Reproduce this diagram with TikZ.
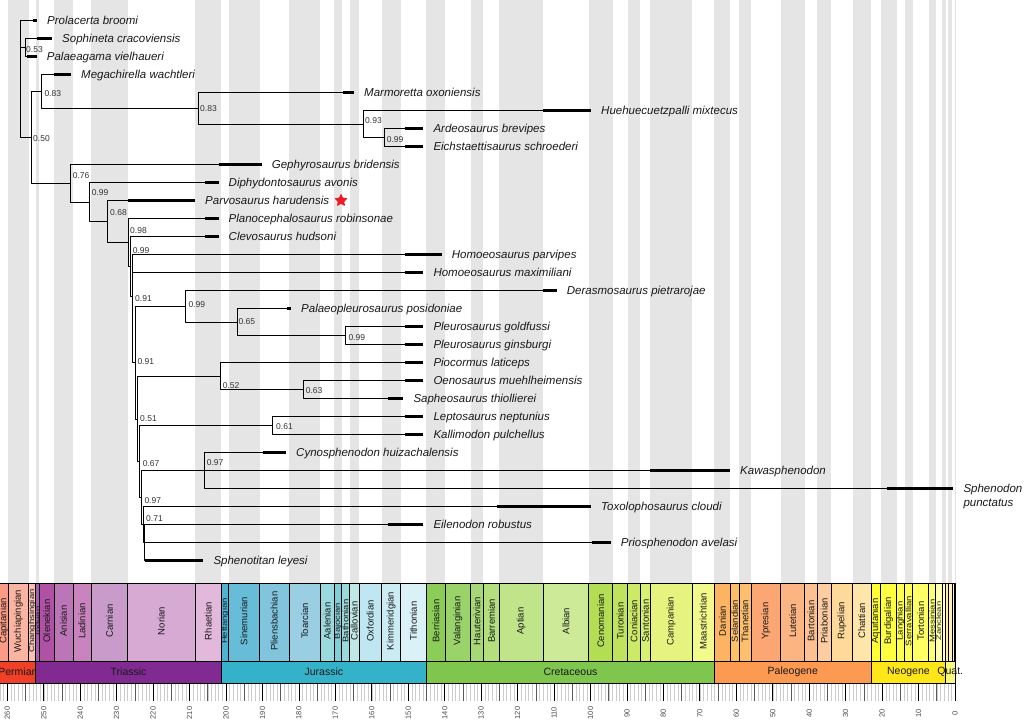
\documentclass[tikz,border=0pt]{standalone}
\usepackage{fontspec}
\usepackage{graphicx}
\setmainfont{Liberation Sans}
\usetikzlibrary{shapes.geometric}
\definecolor{stripe}{RGB}{229,229,229}
\definecolor{starred}{RGB}{236,28,36}
\begin{document}
\begin{tikzpicture}[x=1pt, y=-1pt, line join=round,
    branch/.style={line width=0.75pt},
    agebar/.style={line width=3pt},
    taxon/.style={anchor=west, inner sep=0pt, text height=9pt, text depth=1pt, font=\fontsize{11.5}{13}\selectfont\itshape, text=black!90},
    supp/.style={anchor=west, inner sep=0pt, text height=6.5pt, text depth=0.5pt, font=\fontsize{8.5}{10}\selectfont, text=black!80},
    stagebox/.style={draw=black, line width=0.7pt},
    stagelab/.style={rotate=90, inner sep=0pt, font=\fontsize{9.5}{9.5}\selectfont, text=black!90},
    periodlab/.style={inner sep=0pt, font=\fontsize{10.5}{10.5}\selectfont, text=black!90}]
    \def\xnow{955}\def\ppm{3.645}\def\ytop{583}\def\ymid{661}\def\ybot{683}
    \useasboundingbox (0,0) rectangle (1024,721);
    \clip (0,0) rectangle (1024,721);
    \fill[white] (0,0) rectangle (1024,721);
    \foreach \nm/\ao/\ay/\rgb [count=\i] in {Capitanian/265.1/259.8/{251,154,133}, Wuchiapingian/259.8/254.14/{252,180,162},
        Changhsingian/254.14/252.17/{252,192,178}, Induan/252.17/251.2/{164,95,181}, Olenekian/251.2/247.2/{176,81,165},
        Anisian/247.2/242/{188,117,183}, Ladinian/242/237/{201,131,191}, Carnian/237/227/{201,155,203},
        Norian/227/208.5/{214,170,211}, Rhaetian/208.5/201.3/{227,185,219}, Hettangian/201.3/199.3/{78,179,211},
        Sinemurian/199.3/190.8/{103,188,216}, Pliensbachian/190.8/182.7/{128,197,221}, Toarcian/182.7/174.1/{153,206,227},
        Aalenian/174.1/170.3/{154,217,221}, Bajocian/170.3/168.3/{128,207,216}, Bathonian/168.3/166.1/{154,217,221},
        Callovian/166.1/163.5/{191,231,229}, Oxfordian/163.5/157.3/{191,231,241}, Kimmeridgian/157.3/152.1/{204,236,244},
        Tithonian/152.1/145/{217,241,247}, Berriasian/145/139.8/{140,205,87}, Valanginian/139.8/132.9/{153,211,106},
        Hauterivian/132.9/129.4/{166,217,117}, Barremian/129.4/125/{179,223,127}, Aptian/125/113/{191,228,138},
        Albian/113/100.5/{204,234,151}, Cenomanian/100.5/93.9/{179,222,83}, Turonian/93.9/89.8/{191,227,93},
        Coniacian/89.8/86.3/{204,233,104}, Santonian/86.3/83.6/{217,239,116}, Campanian/83.6/72.1/{230,244,127},
        Maastrichtian/72.1/66/{242,250,140}, Danian/66/61.6/{253,180,98}, Selandian/61.6/59.2/{254,191,101},
        Thanetian/59.2/56/{253,191,111}, Ypresian/56/47.8/{252,167,115}, Lutetian/47.8/41.2/{252,180,130},
        Bartonian/41.2/37.8/{253,192,145}, Priabonian/37.8/33.9/{253,205,161}, Rupelian/33.9/28.1/{254,217,154},
        Chattian/28.1/23.03/{254,230,170}, Aquitanian/23.03/20.44/{255,255,51}, Burdigalian/20.44/15.97/{255,255,65},
        Langhian/15.97/13.82/{255,255,77}, Serravallian/13.82/11.63/{255,255,89}, Tortonian/11.63/7.246/{255,255,102},
        Messinian/7.246/5.333/{255,255,115}, Zanclean/5.333/3.6/{255,255,179}, {}/3.6/2.58/{255,255,191},
        {}/2.58/1.8/{255,237,179}, {}/1.8/0.781/{255,242,186}, {}/0.781/0.126/{255,242,199},
        {}/0.126/0.0117/{255,242,211}, {}/0.0117/0/{254,242,236}}{
        \edef\setstc{\noexpand\definecolor{stc}{RGB}{\rgb}}\setstc
        \pgfmathsetmacro{\xa}{\xnow-\ppm*\ao}
        \pgfmathsetmacro{\xb}{\xnow-\ppm*\ay}
        \pgfmathsetmacro{\xm}{(max(\xa,0)+\xb)/2}
        \pgfmathsetmacro{\sq}{min(1,max(0.45,(\xb-\xa)/9.5))}
        \ifodd\i\else\fill[stripe] (\xa,0) rectangle (\xb,\ytop);\fi
        \draw[stagebox, fill=stc] (\xa,\ytop) rectangle (\xb,\ymid);
        \node[stagelab] (st\i) at (\xm,621) {\scalebox{1}[\sq]{\nm}};
    }
    \foreach \nm/\ao/\ay/\rgb/\xl [count=\i] in {Permian/298.9/252.17/{240,64,40}/17.9, Triassic/252.17/201.3/{129,43,146}/128.6,
        Jurassic/201.3/145/{52,178,201}/323.9, Cretaceous/145/66/{127,198,78}/570.5, Paleogene/66/23.03/{253,154,82}/792.8,
        Neogene/23.03/2.58/{255,230,25}/908.4, Quat./2.58/0/{249,249,127}/950.3}{
        \edef\setstc{\noexpand\definecolor{stc}{RGB}{\rgb}}\setstc
        \draw[stagebox, fill=stc] ({\xnow-\ppm*\ao},\ymid) rectangle ({\xnow-\ppm*\ay},\ybot);
        \node[periodlab] (per\i) at (\xl,672) {\nm};
    }
    \foreach \a in {0,...,262}
        \draw[gray!40, line width=0.45pt] ({\xnow-\ppm*\a},684) -- ({\xnow-\ppm*\a},701);
    \foreach \a in {5,15,...,255}
        \draw[black!65, line width=0.6pt] ({\xnow-\ppm*\a},684) -- ({\xnow-\ppm*\a},701);
    \foreach \a in {0,10,...,260}{
        \draw[line width=0.8pt] ({\xnow-\ppm*\a},684) -- ({\xnow-\ppm*\a},701);
        \node[rotate=90, inner sep=0pt, font=\fontsize{7.5}{7.5}\selectfont, text=black!70] (ax\a) at ({\xnow-\ppm*\a},713) {\a};
    }
    \foreach \n/\a/\b/\lab in {1/33/37/Prolacerta broomi, 2/37/52/Sophineta cracoviensis, 3/27/36.7/Palaeagama vielhaueri,
        4/53.5/71/Megachirella wachtleri, 5/343/354/Marmoretta oxoniensis, 6/543/591/Huehuecuetzpalli mixtecus,
        7/405/423.3/Ardeosaurus brevipes, 8/405/423.3/Eichstaettisaurus schroederi, 9/219.3/261.7/Gephyrosaurus bridensis,
        10/205/218.5/Diphydontosaurus avonis, 11/127.6/195/Parvosaurus harudensis, 12/205/218.5/Planocephalosaurus robinsonae,
        13/205/218.5/Clevosaurus hudsoni, 14/405/441.7/Homoeosaurus parvipes, 15/405/423.3/Homoeosaurus maximiliani,
        16/543.3/556.7/Derasmosaurus pietrarojae, 17/286.7/291/Palaeopleurosaurus posidoniae, 18/405/423.3/Pleurosaurus goldfussi,
        19/405/423.3/Pleurosaurus ginsburgi, 20/405/423.3/Piocormus laticeps, 21/405/423.3/Oenosaurus muehlheimensis,
        22/387.7/403.3/Sapheosaurus thiollierei, 23/405/423.3/Leptosaurus neptunius, 24/405/423.3/Kallimodon pulchellus,
        25/263.3/286/Cynosphenodon huizachalensis, 26/650/730/Kawasphenodon, 27/886.7/953.3/Sphenodon,
        28/496.7/591/Toxolophosaurus cloudi, 29/387.7/423.3/Eilenodon robustus, 30/591.7/610.7/Priosphenodon avelasi,
        31/145/203.3/Sphenotitan leyesi}{
        \coordinate (e\n) at (\b,{20.7+18*(\n-1)});
        \draw[agebar] (\a,{20.7+18*(\n-1)}) -- (e\n);
        \node[taxon] (t\n) at ([xshift=10pt]e\n) {\lab};
    }
    \node[taxon] (t27b) at ([yshift=-14pt]t27.west) {punctatus};
    \node[star, star points=5, star point ratio=2.1, fill=starred, inner sep=0pt, minimum size=14pt, rounded corners=0.8pt] (parvostar) at (341,200.5) {};
    \coordinate (nA) at (20,68.6);
    \coordinate (nB) at (25,47.7);
    \coordinate (nC) at (31,137.5);
    \coordinate (nD) at (41,91.6);
    \coordinate (nE) at (198.3,108.45);
    \coordinate (nG) at (363.3,124.2);
    \coordinate (nH) at (384,137.7);
    \coordinate (nF) at (70.7,183.45);
    \coordinate (nI) at (89.3,202.2);
    \coordinate (nJ) at (107.5,221.7);
    \coordinate (nK) at (128.5,242.7);
    \coordinate (nL) at (130.5,266.7);
    \coordinate (nM) at (132.5,296.7);
    \coordinate (nN) at (135,362.7);
    \coordinate (nP) at (185.7,306.45);
    \coordinate (nPb) at (237,322.2);
    \coordinate (nPc) at (345.7,335.7);
    \coordinate (nQ) at (137.2,418.95);
    \coordinate (nQb) at (220.5,376.2);
    \coordinate (nQc) at (303.3,389.7);
    \coordinate (nR) at (139.3,461.7);
    \coordinate (nRb) at (272.3,425.7);
    \coordinate (nS) at (141.5,497.7);
    \coordinate (nSb) at (204.5,470.7);
    \coordinate (nT) at (143.2,524.7);
    \coordinate (nU) at (144.5,542.7);
    \foreach \p/\c in {nA/e1, nA/nB, nA/nC, nB/e2, nB/e3, nC/nD, nC/nF, nD/e4, nD/nE, nE/e5, nE/nG, nG/e6, nG/nH,
        nH/e7, nH/e8, nF/e9, nF/nI, nI/e10, nI/nJ, nJ/e11, nJ/nK, nK/e12, nK/nL, nL/e13, nL/nM, nM/e14, nM/e15, nM/nN,
        nN/nP, nN/nQ, nP/e16, nP/nPb, nPb/e17, nPb/nPc, nPc/e18, nPc/e19, nQ/nQb, nQ/nR, nQb/e20, nQb/nQc, nQc/e21, nQc/e22,
        nR/nRb, nR/nS, nRb/e23, nRb/e24, nS/nSb, nS/nT, nSb/e25, nSb/e26, nSb/e27, nT/e28, nT/nU, nU/e29, nU/e30, nU/e31}
        \draw[branch] (\p) |- (\c);
    \foreach \x/\y/\v [count=\i] in {26/49.5/0.53, 44.3/93.3/0.83, 33/138.3/0.50, 200/108.3/0.83, 365/120/0.93,
        386.7/139/0.99, 72.7/175/0.76, 91.7/192.7/0.99, 110/212.3/0.68, 130/230.7/0.98, 132.7/250/0.99, 135/298.3/0.91,
        188.3/304/0.99, 238.3/321.7/0.65, 348.3/337.3/0.99, 137.3/361.7/0.91, 222.7/385/0.52, 305.7/390.7/0.63,
        140/418.3/0.51, 276/426.7/0.61, 142.7/463.3/0.67, 206.7/462.7/0.97, 144.3/500/0.97, 146/518.3/0.71}
        \node[supp] (s\i) at (\x,\y) {\v};
\end{tikzpicture}
\end{document}
